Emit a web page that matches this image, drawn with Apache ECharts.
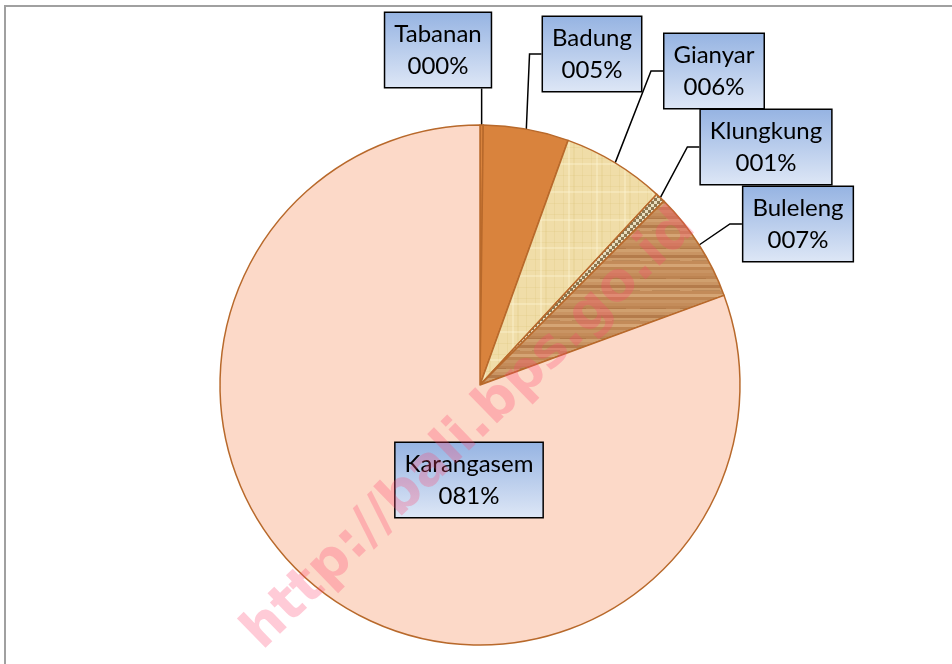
<!DOCTYPE html>
<html>
<head>
<meta charset="utf-8">
<script src="https://cdn.jsdelivr.net/npm/echarts@6/dist/echarts.min.js"></script>
<style>
  html, body { margin: 0; padding: 0; background: #fff; }
  #pie1 { width: 952px; height: 664px; }
</style>
</head>
<body>
<div id="pie1"></div>
<script>
// data (share per kabupaten, %)
var names = ['Tabanan', 'Badung', 'Gianyar', 'Klungkung', 'Buleleng', 'Karangasem'];
var values = [0.2, 5.3, 6.4, 0.6, 6.9, 80.6];

// label box centres (layout only)
var boxes = [
    [438, 50], [592, 54], [714, 71], [766, 147], [798, 224], [469, 480]
];

var pie1 = echarts.init(document.getElementById('pie1'));

// simple textures for the patterned slices
function makeTex(w, h, draw) {
    var c = document.createElement('canvas');
    c.width = w; c.height = h;
    draw(c.getContext('2d'), w, h);
    return c;
}
var parchment = makeTex(28, 28, function (g, w, h) {
    g.fillStyle = '#f0dda8'; g.fillRect(0, 0, w, h);
    g.fillStyle = 'rgba(214,186,110,0.18)';
    g.fillRect(3, 0, 1, h); g.fillRect(13, 0, 2, h); g.fillRect(22, 0, 1, h);
    g.fillRect(0, 7, w, 1); g.fillRect(0, 18, w, 1);
    g.fillStyle = 'rgba(255,246,215,0.35)';
    g.fillRect(8, 0, 2, h); g.fillRect(0, 23, w, 2);
});
var burlap = makeTex(6, 6, function (g, w, h) {
    g.fillStyle = '#e9dfc0'; g.fillRect(0, 0, w, h);
    g.fillStyle = '#8c7650';
    g.fillRect(0, 0, 3, 3); g.fillRect(3, 3, 3, 3);
});
var wood = makeTex(40, 30, function (g, w, h) {
    var rows = ['#c99463', '#c48c5a', '#bd8452', '#d0a06f', '#c99463', '#b47b4b',
                '#cd9b6a', '#c38b59', '#d5a575', '#bf8653'];
    for (var i = 0; i < h; i += 3) {
        g.fillStyle = rows[(i / 3) % rows.length];
        g.fillRect(0, i, w, 3);
    }
    g.fillStyle = 'rgba(150,95,50,0.3)';
    g.fillRect(0, 8, 26, 1); g.fillRect(12, 20, 28, 1);
});

var fills = [
    '#d9833d', '#d9833d',
    { image: parchment, repeat: 'repeat' },
    { image: burlap, repeat: 'repeat' },
    { image: wood, repeat: 'repeat' },
    '#fcd9c8'
];

var seriesData = names.map(function (n, i) {
    return {
        name: n,
        value: values[i],
        itemStyle: { color: fills[i] },
        labelLine: { show: i !== 5 }
    };
});

function pad3(v) {
    var s = String(Math.round(v));
    while (s.length < 3) s = '0' + s;
    return s;
}

option1 = {
    animation: false,
    graphic: [
        {
            type: 'rect',
            shape: { x: 5, y: 6, width: 980, height: 700 },
            style: { fill: 'none', stroke: '#a0a0a0', lineWidth: 2 },
            silent: true,
            z: -10
        },
        {
            type: 'text',
            x: 470, y: 430,
            rotation: 0.77,
            silent: true,
            z: 100,
            style: {
                text: 'http://bali.bps.go.id',
                font: 'bold 54px "DejaVu Sans", sans-serif',
                fill: 'rgba(255,70,110,0.28)',
                align: 'center',
                verticalAlign: 'middle'
            }
        }
    ],
    series: [{
        type: 'pie',
        center: [480, 385],
        radius: 260,
        startAngle: 90,
        clockwise: true,
        avoidLabelOverlap: false,
        emphasis: { disabled: true },
        itemStyle: {
            borderColor: '#b8692b',
            borderWidth: 1.5
        },
        label: {
            show: true,
            position: 'outside',
            formatter: function (p) {
                return p.name + '\n' + pad3(p.percent) + '%';
            },
            fontFamily: 'Lato',
            fontSize: 24,
            lineHeight: 32,
            color: '#000',
            align: 'center',
            padding: [7, 9, 3, 9],
            borderColor: '#000',
            borderWidth: 1.5,
            backgroundColor: new echarts.graphic.LinearGradient(0, 0, 0, 1, [
                { offset: 0, color: '#95b3e2' },
                { offset: 1, color: '#dee7f6' }
            ])
        },
        labelLine: {
            show: true,
            length: 10,
            length2: 10,
            lineStyle: { color: '#000', width: 1.5 }
        },
        labelLayout: function (params) {
            var i = params.dataIndex;
            var b = boxes[i];
            var r = params.labelRect;
            var out = { x: b[0], y: b[1], align: 'center', verticalAlign: 'middle' };
            if (i === 5) return out;
            var a = params.labelLinePoints ? params.labelLinePoints[0] : [480, 125];
            if (i === 0) {
                out.labelLinePoints = [a, [a[0], (a[1] + b[1] + r.height / 2) / 2], [a[0], b[1] + r.height / 2]];
            } else {
                var left = b[0] - r.width / 2;
                out.labelLinePoints = [a, [left - 12, b[1]], [left, b[1]]];
            }
            return out;
        },
        data: seriesData
    }]
};

pie1.setOption(option1);
</script>
</body>
</html>
